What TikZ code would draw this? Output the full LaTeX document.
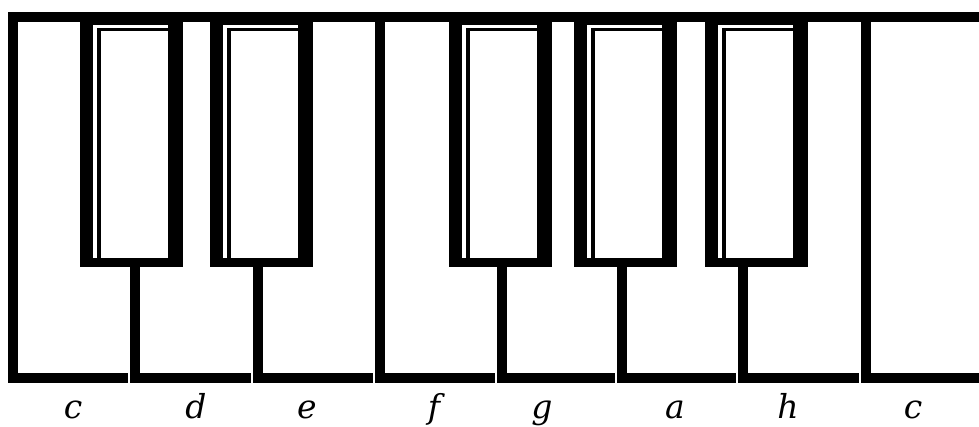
\documentclass[tikz,border=0pt]{standalone}
\usepackage{fontspec}
\setmainfont{DejaVu Serif}
\usepackage{tikz}
\usetikzlibrary{positioning}
\tikzset{
    keyline/.style={line width=10pt, line join=miter, color=black},
    topbar/.style={line width=10pt, color=black},
    keyshade/.style={line width=3.5pt, color=black},
    notename/.style={anchor=base, inner sep=0pt, font=\fontsize{33}{38}\selectfont\itshape}
}
\begin{document}
\begin{tikzpicture}[x=1pt, y=-1pt]
        \useasboundingbox (0,0) rectangle (979,426);

        % -- Top edge --
        \draw [topbar] (8,17) -- (979,17);

        % -- White keys: full height and stems --
        \foreach \x/\top/\next in {13/12/135, 135/267/258, 258/267/380, 380/12/502, 502/267/622, 622/267/743, 743/267/866, 866/12/990}
            \draw [keyline] (\x,\top) -- (\x,377.5) -- (\next-7,377.5);

        % -- Black keys --
        \foreach \x in {80, 210, 449, 574, 705} {
            \fill [black] (\x,12) rectangle ++(103,255);
            \fill [white] (\x+13,25) rectangle (\x+88,258);
            \draw [keyshade] (\x+19,258) |- (\x+88,29.5);
        }

        % -- Note names --
        \foreach \x/\n/\id in {73/c/c1, 196/d/d, 307/e/e, 434/f/f, 542/g/g, 675/a/a, 788/h/h, 913/c/c2}
            \node (\id) [notename] at (\x,418) {\n};
    \end{tikzpicture}
\end{document}
